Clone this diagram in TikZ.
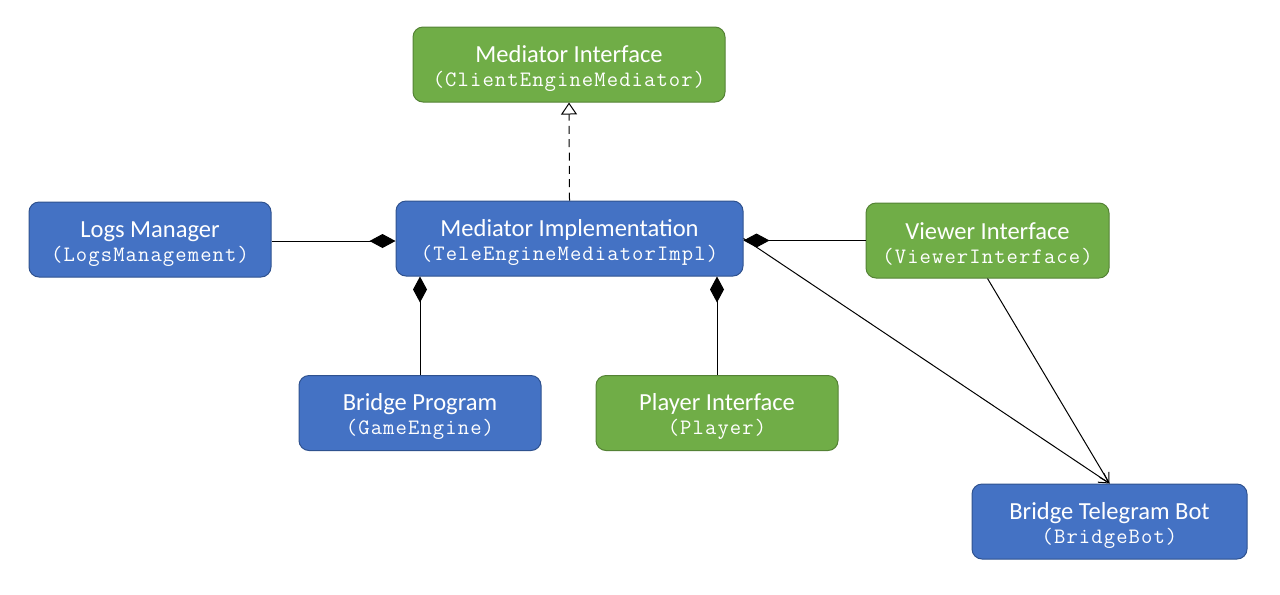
\documentclass[tikz,border=0pt]{standalone}
\usepackage{fontspec}
\setmainfont{Carlito}
\newfontfamily\clsfont{Latin Modern Mono}[LetterSpace=5]
\usetikzlibrary{arrows.meta}

\definecolor{boxblue}{RGB}{68,114,196}
\definecolor{boxblueline}{RGB}{47,82,143}
\definecolor{boxgreen}{RGB}{112,173,71}
\definecolor{boxgreenline}{RGB}{84,130,53}

% title line and class name line of a box
\newcommand{\boxtext}[2]{\rule{0pt}{18.5pt}#1\\{\fontsize{16.5}{18}\clsfont #2}}

\tikzset{every picture/.style={line width=0.75pt}}
\tikzset{
  umlbox/.style={rounded corners=7.5pt, text=white, align=center, inner sep=0pt,
    minimum height=56.25pt, font=\fontsize{18.4}{18}\selectfont},
  bluebox/.style={umlbox, draw=boxblueline, fill=boxblue},
  greenbox/.style={umlbox, draw=boxgreenline, fill=boxgreen},
  composes/.style={{Diamond[length=19.5pt,width=10.5pt]}-},
  realizes/.style={dash pattern=on 6pt off 4pt, -{Triangle[open,length=9pt,width=12pt]}},
  assoc/.style={-{Straight Barb[length=7pt,width=8pt]}}
}

\begin{document}
\begin{tikzpicture}[x=0.75pt,y=0.75pt,yscale=-1,xscale=1]
%set diagram left start at 0, and has height of 594
\path (0,0) rectangle (1280,594);

%Shape: Rounded Rect [id:iface]
\draw (569,64.5) node [greenbox, minimum width=234pt] (iface) {\boxtext{Mediator Interface}{(ClientEngineMediator)}};
%Shape: Rounded Rect [id:impl]
\draw (569.5,238.5) node [bluebox, minimum width=260.25pt] (impl) {\boxtext{Mediator Implementation}{(TeleEngineMediatorImpl)}};
%Shape: Rounded Rect [id:logs]
\draw (150,239.5) node [bluebox, minimum width=181.5pt] (logs) {\boxtext{Logs Manager}{(LogsManagement)}};
%Shape: Rounded Rect [id:viewer]
\draw (987.5,240.5) node [greenbox, minimum width=182.25pt] (viewer) {\boxtext{Viewer Interface}{(ViewerInterface)}};
%Shape: Rounded Rect [id:prog]
\draw (420,413) node [bluebox, minimum width=181.5pt] (prog) {\boxtext{Bridge Program}{(GameEngine)}};
%Shape: Rounded Rect [id:player]
\draw (717,413) node [greenbox, minimum width=181.5pt] (player) {\boxtext{Player Interface}{(Player)}};
%Shape: Rounded Rect [id:bot]
\draw (1109.5,521.5) node [bluebox, minimum width=206.25pt] (bot) {\boxtext{Bridge Telegram Bot}{(BridgeBot)}};

%Straight Lines [id:impl-iface]
\draw [realizes] (impl.north) -- (iface.south);
%Straight Lines [id:impl-logs]
\draw [composes] (impl.west |- 0,241) -- (logs.east |- 0,241);
%Straight Lines [id:impl-prog]
\draw [composes] (impl.south -| prog.north) -- (prog.north);
%Straight Lines [id:impl-player]
\draw [composes] (impl.south -| player.north) -- (player.north);
%Straight Lines [id:impl-viewer]
\draw [composes] (impl.east |- viewer.west) -- (viewer.west);
%Straight Lines [id:impl-bot]
\draw [assoc] (impl.east) -- (bot.north);
%Straight Lines [id:viewer-bot]
\draw [assoc] (viewer.south) -- (bot.north);

\end{tikzpicture}
\end{document}
